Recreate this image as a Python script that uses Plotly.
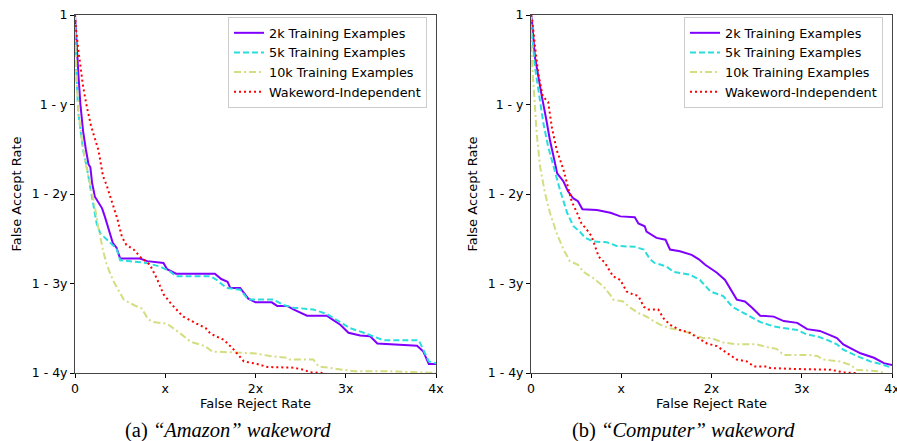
import plotly.graph_objects as go

x_tick_vals = [0, 1, 2, 3, 4]
x_tick_text = ["0", "x", "2x", "3x", "4x"]
y_tick_vals = [0, 1, 2, 3, 4]
y_tick_text = ["1 - 4y", "1 - 3y", "1 - 2y", "1 - y", "1"]

series_names = ["2k Training Examples", "5k Training Examples",
                "10k Training Examples", "Wakeword-Independent"]

amazon_2k = [(0,4),(0.01,3.8),(0.02,3.55),(0.04,3.3),(0.06,3.0),(0.09,2.7),(0.12,2.5),(0.15,2.33),
             (0.17,2.3),(0.19,2.12),(0.22,1.97),(0.26,1.9),(0.30,1.84),(0.33,1.75),(0.39,1.56),
             (0.42,1.45),(0.46,1.40),(0.50,1.28),(0.72,1.28),(0.80,1.25),(0.98,1.23),(1.02,1.16),
             (1.12,1.11),(1.55,1.11),(1.62,1.05),(1.69,1.02),(1.72,0.95),(1.83,0.95),(1.92,0.83),
             (2.0,0.79),(2.18,0.79),(2.24,0.75),(2.35,0.75),(2.42,0.71),(2.57,0.64),(2.79,0.64),
             (2.85,0.60),(2.94,0.54),(3.03,0.45),(3.16,0.42),(3.27,0.41),(3.35,0.33),(3.79,0.305),
             (3.86,0.24),(3.92,0.10),(4.0,0.10)]
amazon_5k = [(0,4),(0.005,3.7),(0.015,3.35),(0.037,2.9),(0.06,2.7),(0.09,2.49),(0.13,2.3),(0.166,2.08),
             (0.20,1.9),(0.24,1.67),(0.28,1.56),(0.34,1.50),(0.39,1.45),(0.46,1.39),(0.5,1.26),
             (0.69,1.24),(0.79,1.23),(0.94,1.19),(1.02,1.15),(1.06,1.13),(1.12,1.08),(1.50,1.08),
             (1.57,1.04),(1.68,0.95),(1.83,0.93),(1.92,0.82),(2.2,0.82),(2.31,0.76),(2.42,0.73),
             (2.64,0.71),(2.79,0.66),(2.94,0.57),(3.05,0.50),(3.2,0.45),(3.35,0.39),(3.42,0.365),
             (3.81,0.365),(3.86,0.26),(3.92,0.13),(4.0,0.11)]
amazon_10k = [(0,4),(0.005,3.6),(0.015,3.3),(0.037,2.94),(0.07,2.65),(0.11,2.38),(0.17,2.1),(0.22,1.86),
              (0.26,1.62),(0.31,1.37),(0.35,1.22),(0.39,1.11),(0.44,1.0),(0.48,0.93),(0.54,0.82),
              (0.65,0.76),(0.74,0.72),(0.81,0.60),(0.87,0.57),(1.02,0.55),(1.09,0.50),(1.17,0.44),
              (1.28,0.35),(1.39,0.32),(1.44,0.30),(1.52,0.24),(1.83,0.23),(1.98,0.22),(2.16,0.19),
              (2.35,0.17),(2.38,0.15),(2.64,0.15),(2.70,0.074),(2.90,0.045),(3.09,0.02),(3.46,0.02),
              (3.83,0.007),(4.0,0.0)]
amazon_wi = [(0,4),(0.01,3.85),(0.037,3.61),(0.09,3.2),(0.13,2.98),(0.18,2.75),(0.26,2.49),(0.31,2.2),
             (0.35,2.1),(0.43,1.86),(0.47,1.72),(0.52,1.52),(0.57,1.43),(0.65,1.38),(0.72,1.30),
             (0.83,1.21),(0.91,1.05),(0.98,0.88),(1.06,0.78),(1.16,0.67),(1.2,0.63),(1.35,0.55),
             (1.45,0.50),(1.5,0.44),(1.57,0.41),(1.65,0.37),(1.76,0.26),(1.87,0.13),(2.02,0.10),
             (2.13,0.067),(2.42,0.06),(2.53,0.037),(2.61,0.007),(2.75,0.0)]

computer_2k = [(0,4),(0.01,3.94),(0.044,3.53),(0.08,3.31),(0.12,3.09),(0.17,2.83),(0.21,2.60),(0.25,2.42),
               (0.29,2.23),(0.36,2.14),(0.41,2.03),(0.47,1.95),(0.52,1.92),(0.57,1.83),(0.73,1.82),
               (0.88,1.79),(0.99,1.75),(1.15,1.74),(1.19,1.67),(1.26,1.64),(1.28,1.58),(1.39,1.51),
               (1.49,1.49),(1.54,1.38),(1.65,1.36),(1.78,1.32),(1.86,1.27),(1.93,1.21),(2.06,1.12),
               (2.15,1.04),(2.28,0.82),(2.37,0.80),(2.45,0.73),(2.54,0.64),(2.69,0.63),(2.80,0.58),
               (2.95,0.56),(3.06,0.49),(3.2,0.47),(3.32,0.42),(3.39,0.39),(3.46,0.32),(3.54,0.28),
               (3.65,0.22),(3.80,0.17),(3.91,0.11),(4.0,0.09)]
computer_5k = [(0,4),(0.01,3.80),(0.044,3.42),(0.08,3.16),(0.137,2.79),(0.19,2.53),(0.25,2.31),(0.32,2.05),
               (0.40,1.79),(0.47,1.64),(0.54,1.58),(0.60,1.51),(0.69,1.47),(0.84,1.46),(0.95,1.42),
               (1.15,1.41),(1.25,1.38),(1.32,1.27),(1.37,1.23),(1.50,1.19),(1.58,1.13),(1.76,1.10),
               (1.87,1.04),(1.99,0.91),(2.13,0.86),(2.23,0.74),(2.32,0.69),(2.43,0.63),(2.54,0.57),
               (2.69,0.52),(2.80,0.50),(2.95,0.48),(3.06,0.43),(3.17,0.41),(3.28,0.37),(3.39,0.32),
               (3.46,0.26),(3.61,0.19),(3.76,0.13),(3.91,0.09),(4.0,0.056)]
computer_10k = [(0,4),(0.005,3.6),(0.026,3.24),(0.063,2.68),(0.10,2.31),(0.155,2.01),(0.21,1.79),
                (0.285,1.56),(0.36,1.38),(0.43,1.25),(0.52,1.21),(0.58,1.13),(0.69,1.06),(0.80,0.97),
                (0.88,0.87),(0.91,0.82),(1.02,0.80),(1.10,0.73),(1.19,0.67),(1.28,0.63),(1.36,0.58),
                (1.43,0.54),(1.54,0.50),(1.69,0.47),(1.80,0.43),(1.91,0.39),(2.00,0.39),(2.13,0.34),
                (2.28,0.32),(2.50,0.32),(2.61,0.29),(2.72,0.27),(2.80,0.20),(3.09,0.20),(3.17,0.19),
                (3.24,0.15),(3.42,0.13),(3.54,0.09),(3.61,0.037),(3.85,0.02),(3.91,0.0)]
computer_wi = [(0,4),(0.01,3.98),(0.044,3.65),(0.08,3.35),(0.13,3.09),(0.19,3.03),(0.23,2.75),(0.285,2.49),
               (0.36,2.27),(0.41,2.08),(0.45,1.92),(0.51,1.79),(0.56,1.67),(0.62,1.60),(0.67,1.53),
               (0.75,1.30),(0.82,1.23),(0.91,1.08),(0.99,1.04),(1.06,0.91),(1.10,0.89),(1.19,0.86),
               (1.25,0.74),(1.30,0.71),(1.41,0.71),(1.47,0.61),(1.54,0.54),(1.65,0.48),(1.76,0.45),
               (1.82,0.41),(1.95,0.33),(2.06,0.30),(2.17,0.22),(2.28,0.15),(2.39,0.13),(2.47,0.074),
               (2.61,0.074),(2.65,0.056),(2.91,0.045),(3.32,0.037),(3.46,0.007),(3.6,0.0)]

colors = ["#8000ff", "#2adddd", "#d4dd80", "#ff0000"]
dashes = ["solid", "6px,3px", "7px,3px,2px,3px", "2px,3px"]

fig = go.Figure()
panels = [
    ([amazon_2k, amazon_5k, amazon_10k, amazon_wi], "x", "y", "legend"),
    ([computer_2k, computer_5k, computer_10k, computer_wi], "x2", "y2", "legend2"),
]
for data_list, xa, ya, lg in panels:
    for name, pts, c, d in zip(series_names, data_list, colors, dashes):
        fig.add_trace(go.Scatter(
            x=[p[0] for p in pts], y=[p[1] for p in pts], mode="lines", name=name,
            line=dict(color=c, width=2, dash=d), xaxis=xa, yaxis=ya, legend=lg))

tick_font = dict(family="DejaVu Sans", size=12.5, color="#000")
title_font = dict(family="DejaVu Sans", size=13, color="#000")
legend_font = dict(family="DejaVu Sans", size=12.8, color="#000")
axis_common = dict(range=[0, 4], showgrid=False, zeroline=False, showline=True, mirror=True,
                   linecolor="#444", linewidth=1, ticks="outside", ticklen=4, tickcolor="#000",
                   tickfont=tick_font, tickmode="array", automargin=False,
                   ticklabeloverflow="allow")

y_dom = [1 - 373 / 441, 1 - 15 / 441]
fig.update_layout(
    width=897, height=441, margin=dict(l=0, r=0, t=0, b=0, autoexpand=False),
    paper_bgcolor="white", plot_bgcolor="white", font=title_font,
    xaxis=dict(domain=[75 / 897, 436 / 897], anchor="y", tickvals=x_tick_vals, ticktext=x_tick_text,
               title=dict(text="False Reject Rate", font=title_font, standoff=2), **axis_common),
    yaxis=dict(domain=y_dom, anchor="x", tickvals=y_tick_vals, ticktext=y_tick_text,
               title=dict(text="False Accept Rate", font=title_font, standoff=7), **axis_common),
    xaxis2=dict(domain=[531 / 897, 892 / 897], anchor="y2", tickvals=x_tick_vals, ticktext=x_tick_text,
                title=dict(text="False Reject Rate", font=title_font, standoff=2), **axis_common),
    yaxis2=dict(domain=y_dom, anchor="x2", tickvals=y_tick_vals, ticktext=y_tick_text,
                title=dict(text="False Accept Rate", font=title_font, standoff=7), **axis_common),
    legend=dict(x=228 / 897, y=1 - 17 / 441, xanchor="left", yanchor="top", bgcolor="white",
                bordercolor="#cccccc", borderwidth=1, font=legend_font, tracegroupgap=0, itemwidth=30),
    legend2=dict(x=684 / 897, y=1 - 17 / 441, xanchor="left", yanchor="top", bgcolor="white",
                 bordercolor="#cccccc", borderwidth=1, font=legend_font, tracegroupgap=0, itemwidth=30),
    annotations=[
        dict(text="(a) <i>“Amazon” wakeword</i>", x=228 / 897, y=1 - 430 / 441, xref="paper", yref="paper",
             showarrow=False, yanchor="middle", xanchor="center",
             font=dict(family="Liberation Serif", size=20.5, color="#000")),
        dict(text="(b) <i>“Computer” wakeword</i>", x=683 / 897, y=1 - 430 / 441, xref="paper", yref="paper",
             showarrow=False, yanchor="middle", xanchor="center",
             font=dict(family="Liberation Serif", size=20.5, color="#000")),
    ],
)

fig.write_html("out.html", config={"displayModeBar": False},
               post_script="document.body.style.margin='0';document.body.style.overflow='hidden';")
